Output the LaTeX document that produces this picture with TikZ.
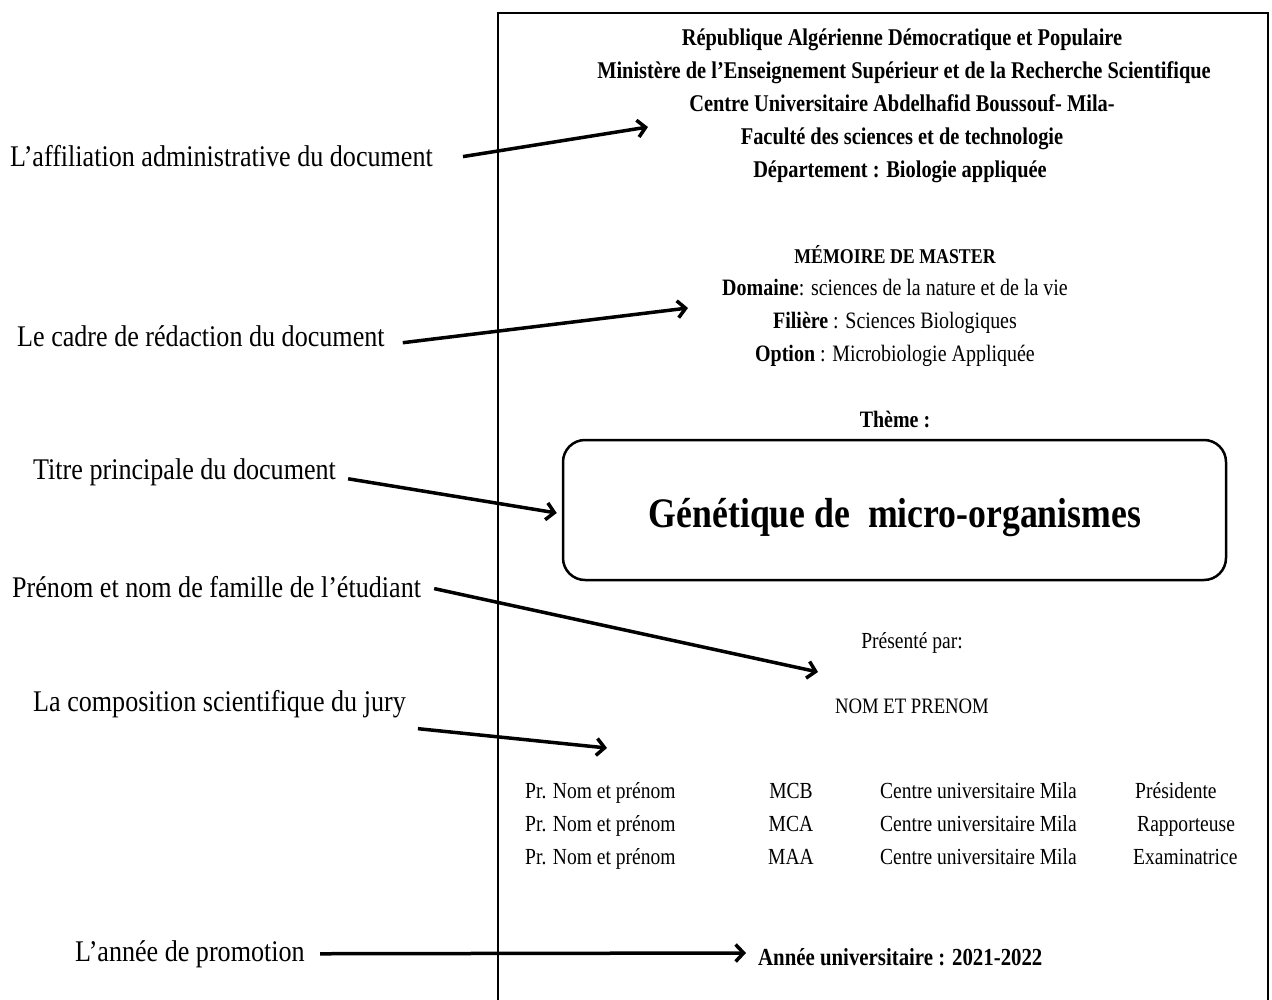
\documentclass[tikz,border=0pt]{standalone}
\usepackage{fontspec}
\setmainfont{Liberation Serif}
\newfontfamily\cf[FakeStretch=0.85]{Liberation Serif}
\newfontfamily\lf[FakeStretch=0.87]{Liberation Serif}
\usetikzlibrary{arrows.meta}
\begin{document}
\begin{tikzpicture}[x=1pt,y=-1pt,
  lab/.style={inner sep=0pt,anchor=base west,font=\lf\fontsize{30}{33}\selectfont},
  hd/.style={inner sep=0pt,anchor=base,font=\cf\bfseries\fontsize{24}{28}\selectfont},
  md/.style={inner sep=0pt,anchor=base,font=\cf\fontsize{23.5}{26}\selectfont},
  jr/.style={inner sep=0pt,anchor=base west,font=\cf\fontsize{23}{26}\selectfont},
  arr/.style={line width=3.5pt,-{Straight Barb[length=8pt,width=17pt]}},
  frame/.style={line width=2.5pt}]
\useasboundingbox (0,0) rectangle (1272,1000);
\fill[white] (0,0) rectangle (1272,1000);
% frame
\draw[frame] (498,1000) -- (498,13) -- (1268,13) -- (1268,1000);
% header
\node[hd] (h1) at (902,46) {République  Algérienne Démocratique et Populaire};
\node[hd] (h2) at (904,79) {Ministère de l’Enseignement Supérieur et de la Recherche Scientifique};
\node[hd] (h3) at (902,112) {Centre Universitaire Abdelhafid Boussouf- Mila-};
\node[hd] (h4) at (902,145) {Faculté des sciences et de technologie};
\node[hd] (h5) at (900,178) {Département : Biologie appliquée};
% middle
\node[md,font=\cf\bfseries\fontsize{21}{26}\selectfont] (mm) at (895,264) {MÉMOIRE DE MASTER};
\node[md] (dom) at (895,296) {\textbf{Domaine}: sciences de la nature et de la vie};
\node[md] (fil) at (895,329) {\textbf{Filière} : Sciences Biologiques};
\node[md] (opt) at (895,361) {\textbf{Option} : Microbiologie Appliquée};
\node[md,font=\cf\bfseries\fontsize{23.5}{26}\selectfont] (theme) at (895,427) {Thème :};
\node[draw,line width=2.5pt,rounded corners=22pt,minimum width=663pt,minimum height=140pt,
  inner sep=0pt] (title) at (894.5,510) {};
\node[inner sep=0pt,anchor=base,font=\cf\bfseries\fontsize{42}{46}\selectfont] (ttl) at (895,527) {Génétique de\ \ micro-organismes};
\node[md,font=\cf\fontsize{23}{26}\selectfont] (pres) at (912,648) {Présenté par:};
\node[md,font=\cf\fontsize{22}{26}\selectfont] (nom) at (912,713) {NOM ET PRENOM};
% jury
\node[jr] (j11) at (525,798) {Pr. Nom et prénom};
\node[jr,anchor=base] (j12) at (791,798) {MCB};
\node[jr] (j13) at (880,798) {Centre universitaire Mila};
\node[jr] (j14) at (1135,798) {Présidente};
\node[jr] (j21) at (525,831) {Pr. Nom et prénom};
\node[jr,anchor=base] (j22) at (791,831) {MCA};
\node[jr] (j23) at (880,831) {Centre universitaire Mila};
\node[jr] (j24) at (1137,831) {Rapporteuse};
\node[jr] (j31) at (525,864) {Pr. Nom et prénom};
\node[jr,anchor=base] (j32) at (791,864) {MAA};
\node[jr] (j33) at (880,864) {Centre universitaire Mila};
\node[jr] (j34) at (1133,864) {Examinatrice};
\node[inner sep=0pt,anchor=base west,font=\cf\bfseries\fontsize{24.5}{28}\selectfont] (annee) at (758,965) {Année universitaire : 2021-2022};
% left labels
\node[lab] (lab1) at (10,167) {L’affiliation administrative du document};
\node[lab] (lab2) at (17,347) {Le cadre de rédaction du document};
\node[lab] (lab3) at (33,479) {Titre principale du document};
\node[lab] (lab4) at (12,597) {Prénom et nom de famille de l’étudiant};
\node[lab] (lab5) at (33,711) {La composition scientifique du jury};
\node[lab] (lab6) at (75,961) {L’année de promotion};
% arrow targets
\coordinate (t1) at (648,127);
\coordinate (t2) at (688,308);
\coordinate (t4) at (818,672);
\coordinate (t5) at (607,748);
\coordinate (s6) at (320,953);
\coordinate (t6) at (746,953);
% arrows
\draw[arr] ([xshift=30pt]lab1.east) -- (t1);
\draw[arr] ([xshift=18pt,yshift=-6pt]lab2.east) -- (t2);
\draw[arr] ([xshift=12pt,yshift=-7pt]lab3.east) -- ([xshift=-5pt,yshift=-3pt]title.west);
\draw[arr] ([xshift=13pt,yshift=-2pt]lab4.east) -- (t4);
\draw[arr] ([xshift=12pt,yshift=-25pt]lab5.east) -- (t5);
\draw[arr] (lab6.east -| s6) -- (t6);
\end{tikzpicture}
\end{document}
